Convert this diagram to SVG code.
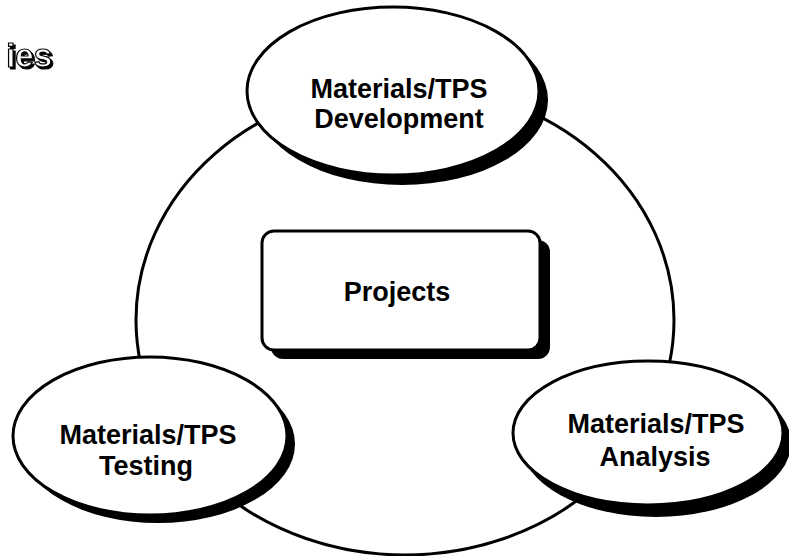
<svg xmlns="http://www.w3.org/2000/svg" width="789" height="556" viewBox="0 0 789 556">
<defs>
  <filter id="dropShadow" x="-20%" y="-20%" width="140%" height="140%">
    <feOffset in="SourceAlpha" dx="2" dy="2" result="off"/>
    <feMerge>
      <feMergeNode in="off"/>
      <feMergeNode in="SourceGraphic"/>
    </feMerge>
  </filter>
</defs>
<style>
  .bg { fill: #ffffff; }
  .ring { fill: none; stroke: #000; stroke-width: 3; }
  .shadow { fill: #000; }
  .node { fill: #fff; stroke: #000; stroke-width: 3; }
  .label { font-family: "Liberation Sans", Arial, sans-serif; font-weight: bold; font-size: 27px; fill: #000; text-anchor: middle; }
  .title { font-family: "Liberation Sans", Arial, sans-serif; font-weight: bold; font-size: 33px; text-anchor: end; fill: #fff; stroke: #000; stroke-width: 1.2; }
</style>
<rect class="bg" x="0" y="0" width="789" height="556"/>

<g id="title">
  <text class="title" x="52" y="67" filter="url(#dropShadow)">ies</text>
</g>

<g id="connectors">
  <ellipse class="ring" cx="405" cy="320" rx="269" ry="235"/>
</g>

<g id="projects">
  <rect class="shadow" x="271" y="240" width="279" height="119" rx="12"/>
  <rect class="node" x="262" y="231" width="278" height="119" rx="12"/>
  <text class="label" x="397" y="301">Projects</text>
</g>

<g id="development">
  <ellipse class="shadow" cx="402" cy="100" rx="146" ry="85"/>
  <ellipse class="node" cx="393" cy="91" rx="146" ry="84"/>
  <text class="label" x="399" y="98">Materials/TPS</text>
  <text class="label" x="399" y="128">Development</text>
</g>

<g id="testing">
  <ellipse class="shadow" cx="158" cy="444" rx="137" ry="79"/>
  <ellipse class="node" cx="150" cy="436" rx="137" ry="79"/>
  <text class="label" x="148" y="444">Materials/TPS</text>
  <text class="label" x="146" y="475">Testing</text>
</g>

<g id="analysis">
  <ellipse class="shadow" cx="656" cy="443" rx="135" ry="74"/>
  <ellipse class="node" cx="648" cy="433" rx="135" ry="72"/>
  <text class="label" x="656" y="433">Materials/TPS</text>
  <text class="label" x="655" y="466">Analysis</text>
</g>
</svg>
